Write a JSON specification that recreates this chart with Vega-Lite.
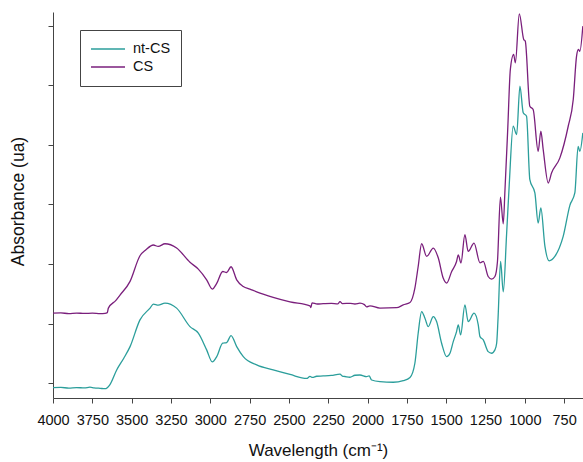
{
  "$schema": "https://vega.github.io/schema/vega-lite/v6.json",
  "autosize": {"type": "none"},
  "width": 530,
  "height": 386,
  "padding": {"left": 53, "top": 12, "right": 0, "bottom": 64},
  "background": "white",
  "config": {
    "font": "Liberation Sans",
    "view": {"stroke": null},
    "axis": {
      "grid": false,
      "domainColor": "#444444",
      "tickColor": "#444444",
      "tickSize": 5,
      "labelColor": "#111111",
      "titleColor": "#111111",
      "labelFont": "Liberation Sans",
      "titleFont": "Liberation Sans",
      "labelFontSize": 14.5,
      "titleFontSize": 17,
      "titleFontWeight": "normal"
    }
  },
  "data": {
    "values": [
      {"wn": 4000, "a": -0.0074, "s": "nt-CS"},
      {"wn": 3950, "a": -0.0070, "s": "nt-CS"},
      {"wn": 3900, "a": -0.0080, "s": "nt-CS"},
      {"wn": 3850, "a": -0.0072, "s": "nt-CS"},
      {"wn": 3800, "a": -0.0078, "s": "nt-CS"},
      {"wn": 3765, "a": -0.0066, "s": "nt-CS"},
      {"wn": 3740, "a": -0.0076, "s": "nt-CS"},
      {"wn": 3700, "a": -0.0085, "s": "nt-CS"},
      {"wn": 3669, "a": -0.0091, "s": "nt-CS"},
      {"wn": 3640, "a": -0.0030, "s": "nt-CS"},
      {"wn": 3595, "a": 0.0224, "s": "nt-CS"},
      {"wn": 3550, "a": 0.0420, "s": "nt-CS"},
      {"wn": 3510, "a": 0.0615, "s": "nt-CS"},
      {"wn": 3447, "a": 0.1064, "s": "nt-CS"},
      {"wn": 3383, "a": 0.1261, "s": "nt-CS"},
      {"wn": 3362, "a": 0.1328, "s": "nt-CS"},
      {"wn": 3331, "a": 0.1310, "s": "nt-CS"},
      {"wn": 3288, "a": 0.1345, "s": "nt-CS"},
      {"wn": 3214, "a": 0.1261, "s": "nt-CS"},
      {"wn": 3129, "a": 0.0951, "s": "nt-CS"},
      {"wn": 3076, "a": 0.0840, "s": "nt-CS"},
      {"wn": 3023, "a": 0.0560, "s": "nt-CS"},
      {"wn": 2987, "a": 0.0358, "s": "nt-CS"},
      {"wn": 2959, "a": 0.0447, "s": "nt-CS"},
      {"wn": 2921, "a": 0.0672, "s": "nt-CS"},
      {"wn": 2896, "a": 0.0682, "s": "nt-CS"},
      {"wn": 2868, "a": 0.0800, "s": "nt-CS"},
      {"wn": 2832, "a": 0.0615, "s": "nt-CS"},
      {"wn": 2790, "a": 0.0447, "s": "nt-CS"},
      {"wn": 2705, "a": 0.0308, "s": "nt-CS"},
      {"wn": 2600, "a": 0.0224, "s": "nt-CS"},
      {"wn": 2493, "a": 0.0148, "s": "nt-CS"},
      {"wn": 2387, "a": 0.0081, "s": "nt-CS"},
      {"wn": 2366, "a": 0.0115, "s": "nt-CS"},
      {"wn": 2350, "a": 0.0098, "s": "nt-CS"},
      {"wn": 2324, "a": 0.0118, "s": "nt-CS"},
      {"wn": 2282, "a": 0.0123, "s": "nt-CS"},
      {"wn": 2230, "a": 0.0132, "s": "nt-CS"},
      {"wn": 2175, "a": 0.0155, "s": "nt-CS"},
      {"wn": 2160, "a": 0.0120, "s": "nt-CS"},
      {"wn": 2144, "a": 0.0114, "s": "nt-CS"},
      {"wn": 2112, "a": 0.0101, "s": "nt-CS"},
      {"wn": 2080, "a": 0.0135, "s": "nt-CS"},
      {"wn": 2048, "a": 0.0139, "s": "nt-CS"},
      {"wn": 2006, "a": 0.0111, "s": "nt-CS"},
      {"wn": 1990, "a": 0.0125, "s": "nt-CS"},
      {"wn": 1974, "a": 0.0055, "s": "nt-CS"},
      {"wn": 1921, "a": 0.0027, "s": "nt-CS"},
      {"wn": 1837, "a": 0.0017, "s": "nt-CS"},
      {"wn": 1773, "a": 0.0044, "s": "nt-CS"},
      {"wn": 1730, "a": 0.0097, "s": "nt-CS"},
      {"wn": 1699, "a": 0.0336, "s": "nt-CS"},
      {"wn": 1678, "a": 0.0840, "s": "nt-CS"},
      {"wn": 1656, "a": 0.1203, "s": "nt-CS"},
      {"wn": 1635, "a": 0.1092, "s": "nt-CS"},
      {"wn": 1614, "a": 0.0951, "s": "nt-CS"},
      {"wn": 1582, "a": 0.1119, "s": "nt-CS"},
      {"wn": 1561, "a": 0.1035, "s": "nt-CS"},
      {"wn": 1529, "a": 0.0672, "s": "nt-CS"},
      {"wn": 1497, "a": 0.0447, "s": "nt-CS"},
      {"wn": 1476, "a": 0.0504, "s": "nt-CS"},
      {"wn": 1455, "a": 0.0699, "s": "nt-CS"},
      {"wn": 1434, "a": 0.0867, "s": "nt-CS"},
      {"wn": 1423, "a": 0.0980, "s": "nt-CS"},
      {"wn": 1408, "a": 0.0812, "s": "nt-CS"},
      {"wn": 1381, "a": 0.1316, "s": "nt-CS"},
      {"wn": 1360, "a": 0.1035, "s": "nt-CS"},
      {"wn": 1323, "a": 0.1176, "s": "nt-CS"},
      {"wn": 1296, "a": 0.0980, "s": "nt-CS"},
      {"wn": 1285, "a": 0.0783, "s": "nt-CS"},
      {"wn": 1264, "a": 0.0728, "s": "nt-CS"},
      {"wn": 1233, "a": 0.0531, "s": "nt-CS"},
      {"wn": 1211, "a": 0.0504, "s": "nt-CS"},
      {"wn": 1190, "a": 0.0560, "s": "nt-CS"},
      {"wn": 1179, "a": 0.0672, "s": "nt-CS"},
      {"wn": 1170, "a": 0.1100, "s": "nt-CS"},
      {"wn": 1154, "a": 0.2044, "s": "nt-CS"},
      {"wn": 1137, "a": 0.1534, "s": "nt-CS"},
      {"wn": 1116, "a": 0.2492, "s": "nt-CS"},
      {"wn": 1099, "a": 0.3333, "s": "nt-CS"},
      {"wn": 1074, "a": 0.4313, "s": "nt-CS"},
      {"wn": 1052, "a": 0.4173, "s": "nt-CS"},
      {"wn": 1031, "a": 0.4985, "s": "nt-CS"},
      {"wn": 1010, "a": 0.4538, "s": "nt-CS"},
      {"wn": 989, "a": 0.4481, "s": "nt-CS"},
      {"wn": 968, "a": 0.3417, "s": "nt-CS"},
      {"wn": 936, "a": 0.3193, "s": "nt-CS"},
      {"wn": 915, "a": 0.2689, "s": "nt-CS"},
      {"wn": 898, "a": 0.2941, "s": "nt-CS"},
      {"wn": 872, "a": 0.2296, "s": "nt-CS"},
      {"wn": 845, "a": 0.2055, "s": "nt-CS"},
      {"wn": 809, "a": 0.2128, "s": "nt-CS"},
      {"wn": 756, "a": 0.2464, "s": "nt-CS"},
      {"wn": 713, "a": 0.2990, "s": "nt-CS"},
      {"wn": 682, "a": 0.3193, "s": "nt-CS"},
      {"wn": 661, "a": 0.3976, "s": "nt-CS"},
      {"wn": 650, "a": 0.3892, "s": "nt-CS"},
      {"wn": 631, "a": 0.4202, "s": "nt-CS"},

      {"wn": 4000, "a": 0.1176, "s": "CS"},
      {"wn": 3950, "a": 0.1180, "s": "CS"},
      {"wn": 3900, "a": 0.1170, "s": "CS"},
      {"wn": 3850, "a": 0.1178, "s": "CS"},
      {"wn": 3800, "a": 0.1172, "s": "CS"},
      {"wn": 3750, "a": 0.1177, "s": "CS"},
      {"wn": 3700, "a": 0.1170, "s": "CS"},
      {"wn": 3669, "a": 0.1173, "s": "CS"},
      {"wn": 3655, "a": 0.1185, "s": "CS"},
      {"wn": 3648, "a": 0.1261, "s": "CS"},
      {"wn": 3600, "a": 0.1390, "s": "CS"},
      {"wn": 3574, "a": 0.1480, "s": "CS"},
      {"wn": 3510, "a": 0.1710, "s": "CS"},
      {"wn": 3447, "a": 0.2140, "s": "CS"},
      {"wn": 3409, "a": 0.2240, "s": "CS"},
      {"wn": 3362, "a": 0.2320, "s": "CS"},
      {"wn": 3331, "a": 0.2296, "s": "CS"},
      {"wn": 3288, "a": 0.2341, "s": "CS"},
      {"wn": 3214, "a": 0.2269, "s": "CS"},
      {"wn": 3129, "a": 0.2030, "s": "CS"},
      {"wn": 3076, "a": 0.1916, "s": "CS"},
      {"wn": 3023, "a": 0.1736, "s": "CS"},
      {"wn": 2987, "a": 0.1580, "s": "CS"},
      {"wn": 2959, "a": 0.1675, "s": "CS"},
      {"wn": 2921, "a": 0.1876, "s": "CS"},
      {"wn": 2896, "a": 0.1859, "s": "CS"},
      {"wn": 2868, "a": 0.1955, "s": "CS"},
      {"wn": 2832, "a": 0.1736, "s": "CS"},
      {"wn": 2790, "a": 0.1624, "s": "CS"},
      {"wn": 2748, "a": 0.1580, "s": "CS"},
      {"wn": 2705, "a": 0.1534, "s": "CS"},
      {"wn": 2600, "a": 0.1442, "s": "CS"},
      {"wn": 2493, "a": 0.1366, "s": "CS"},
      {"wn": 2366, "a": 0.1299, "s": "CS"},
      {"wn": 2360, "a": 0.1270, "s": "CS"},
      {"wn": 2353, "a": 0.1350, "s": "CS"},
      {"wn": 2320, "a": 0.1330, "s": "CS"},
      {"wn": 2282, "a": 0.1335, "s": "CS"},
      {"wn": 2230, "a": 0.1340, "s": "CS"},
      {"wn": 2190, "a": 0.1332, "s": "CS"},
      {"wn": 2175, "a": 0.1370, "s": "CS"},
      {"wn": 2160, "a": 0.1338, "s": "CS"},
      {"wn": 2110, "a": 0.1342, "s": "CS"},
      {"wn": 2080, "a": 0.1330, "s": "CS"},
      {"wn": 2048, "a": 0.1345, "s": "CS"},
      {"wn": 2020, "a": 0.1320, "s": "CS"},
      {"wn": 2006, "a": 0.1282, "s": "CS"},
      {"wn": 1985, "a": 0.1300, "s": "CS"},
      {"wn": 1921, "a": 0.1261, "s": "CS"},
      {"wn": 1815, "a": 0.1268, "s": "CS"},
      {"wn": 1773, "a": 0.1316, "s": "CS"},
      {"wn": 1730, "a": 0.1355, "s": "CS"},
      {"wn": 1699, "a": 0.1597, "s": "CS"},
      {"wn": 1678, "a": 0.1960, "s": "CS"},
      {"wn": 1656, "a": 0.2341, "s": "CS"},
      {"wn": 1624, "a": 0.2128, "s": "CS"},
      {"wn": 1582, "a": 0.2269, "s": "CS"},
      {"wn": 1550, "a": 0.2101, "s": "CS"},
      {"wn": 1519, "a": 0.1765, "s": "CS"},
      {"wn": 1497, "a": 0.1681, "s": "CS"},
      {"wn": 1465, "a": 0.1876, "s": "CS"},
      {"wn": 1434, "a": 0.2044, "s": "CS"},
      {"wn": 1423, "a": 0.2156, "s": "CS"},
      {"wn": 1406, "a": 0.2017, "s": "CS"},
      {"wn": 1381, "a": 0.2492, "s": "CS"},
      {"wn": 1360, "a": 0.2212, "s": "CS"},
      {"wn": 1323, "a": 0.2353, "s": "CS"},
      {"wn": 1285, "a": 0.2022, "s": "CS"},
      {"wn": 1264, "a": 0.2044, "s": "CS"},
      {"wn": 1233, "a": 0.1792, "s": "CS"},
      {"wn": 1211, "a": 0.1748, "s": "CS"},
      {"wn": 1190, "a": 0.1792, "s": "CS"},
      {"wn": 1174, "a": 0.2039, "s": "CS"},
      {"wn": 1155, "a": 0.3123, "s": "CS"},
      {"wn": 1137, "a": 0.2677, "s": "CS"},
      {"wn": 1126, "a": 0.3250, "s": "CS"},
      {"wn": 1108, "a": 0.4300, "s": "CS"},
      {"wn": 1092, "a": 0.5266, "s": "CS"},
      {"wn": 1071, "a": 0.5518, "s": "CS"},
      {"wn": 1060, "a": 0.5378, "s": "CS"},
      {"wn": 1035, "a": 0.6200, "s": "CS"},
      {"wn": 1007, "a": 0.5770, "s": "CS"},
      {"wn": 997, "a": 0.5741, "s": "CS"},
      {"wn": 968, "a": 0.4649, "s": "CS"},
      {"wn": 947, "a": 0.4593, "s": "CS"},
      {"wn": 915, "a": 0.3892, "s": "CS"},
      {"wn": 898, "a": 0.4229, "s": "CS"},
      {"wn": 883, "a": 0.3921, "s": "CS"},
      {"wn": 851, "a": 0.3361, "s": "CS"},
      {"wn": 830, "a": 0.3529, "s": "CS"},
      {"wn": 777, "a": 0.3782, "s": "CS"},
      {"wn": 724, "a": 0.4313, "s": "CS"},
      {"wn": 692, "a": 0.4761, "s": "CS"},
      {"wn": 671, "a": 0.5489, "s": "CS"},
      {"wn": 659, "a": 0.5602, "s": "CS"},
      {"wn": 650, "a": 0.5571, "s": "CS"},
      {"wn": 631, "a": 0.5993, "s": "CS"}
    ]
  },
  "mark": {"type": "line", "strokeWidth": 1.3, "clip": true, "interpolate": "monotone"},
  "encoding": {
    "x": {
      "field": "wn",
      "type": "quantitative",
      "scale": {"domain": [630, 4000], "reverse": true, "nice": false, "zero": false},
      "axis": {
        "title": "Wavelength (cm⁻¹)",
        "values": [4000, 3750, 3500, 3250, 3000, 2750, 2500, 2250, 2000, 1750, 1500, 1250, 1000, 750],
        "format": "d",
        "labelPadding": 10,
        "titlePadding": 16,
        "labelFlush": false,
        "labelOverlap": false
      }
    },
    "y": {
      "field": "a",
      "type": "quantitative",
      "scale": {"domain": [-0.0247, 0.623], "nice": false, "zero": false},
      "axis": {
        "title": "Absorbance (ua)",
        "values": [0, 0.1, 0.2, 0.3, 0.4, 0.5, 0.6],
        "labels": false,
        "titleFontSize": 17.5,
        "titleY": 189,
        "titlePadding": 20
      }
    },
    "color": {
      "field": "s",
      "type": "nominal",
      "scale": {"domain": ["nt-CS", "CS"], "range": ["#2b9e9b", "#7a1f7c"]},
      "legend": {
        "title": null,
        "orient": "none",
        "legendX": 27,
        "legendY": 18,
        "padding": 10,
        "strokeColor": "#444444",
        "symbolType": "stroke",
        "symbolSize": 1156,
        "symbolStrokeWidth": 1.5,
        "clipHeight": 18,
        "labelOffset": 7,
        "labelFontSize": 14.5,
        "labelColor": "#111111",
        "labelExpr": "datum.label + '\u00a0\u00a0'",
        "rowPadding": 0
      }
    },
    "order": {"field": "wn", "type": "quantitative"}
  }
}
